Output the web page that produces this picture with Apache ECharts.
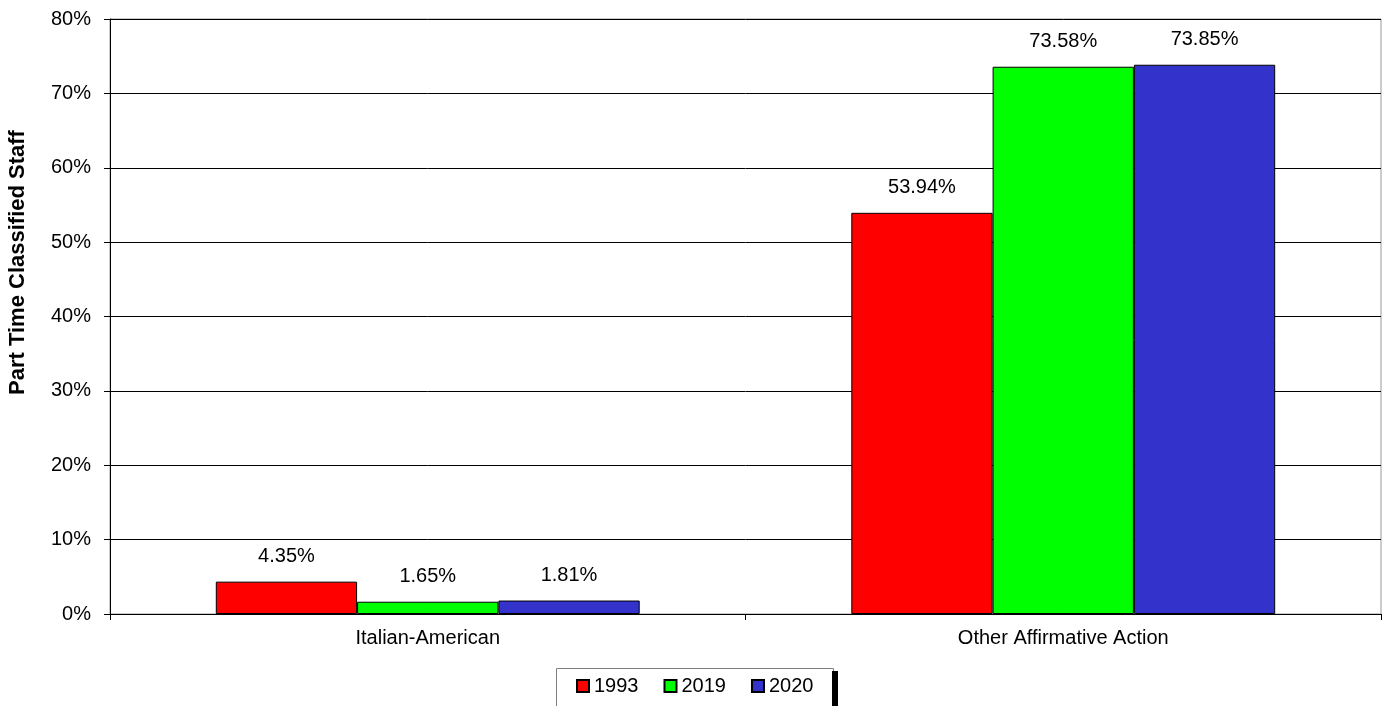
<!DOCTYPE html>
<html><head><meta charset="utf-8">
<script src="https://cdn.jsdelivr.net/npm/echarts@6/dist/echarts.min.js"></script>
<style>html,body{margin:0;padding:0;background:#fff}#c{width:1393px;height:706px}</style>
</head><body><div id="c"></div>
<script>
const categories = ["Italian-American", "Other Affirmative Action"];
const seriesNames = ["1993", "2019", "2020"];
const v1993 = [4.35, 53.94];
const v2019 = [1.65, 73.58];
const v2020 = [1.81, 73.85];
const colors = ["#FF0000", "#00FF00", "#3333CC"];
const yTitle = "Part Time Classified Staff";

const FF = 'Liberation Sans, Arial';
const chart = echarts.init(document.getElementById('c'));
const mk = (name, data, color) => ({
  name, type: 'bar', data, barGap: '0%', barCategoryGap: '33.3%',
  itemStyle: { color, borderColor: '#000', borderWidth: 1 },
  label: { show: true, position: 'top', distance: 15, formatter: p => p.value.toFixed(2) + '%',
    fontFamily: FF, fontSize: 20, color: '#000' }
});
chart.setOption({
  animation: false,
  grid: { left: 110, right: 12, top: 19, bottom: 92, show: true, borderColor: '#999', borderWidth: 1,
    containLabel: false, outerBoundsMode: 'none' },
  graphic: [
    { type: 'rect', left: 554, top: 666, shape: { width: 277, height: 50 },
      style: { fill: 'none', stroke: '#808080', lineWidth: 1 }, z: 1 },
    { type: 'rect', left: 832, top: 671, shape: { width: 6, height: 40 },
      style: { fill: '#000' }, z: 1 }
  ],
  legend: {
    data: seriesNames, top: 666, left: 554, itemWidth: 12, itemHeight: 12, itemGap: 25,
    icon: 'rect', padding: [10, 16, 14, 22],
    textStyle: { fontFamily: FF, fontSize: 20, color: '#000' }
  },
  xAxis: {
    type: 'category', data: categories,
    axisLine: { lineStyle: { color: '#000', width: 1 } },
    axisTick: { show: true, length: 6, lineStyle: { color: '#000' } },
    axisLabel: { fontFamily: FF, fontSize: 20, color: '#000', margin: 14 }
  },
  yAxis: {
    type: 'value', min: 0, max: 80, interval: 10,
    name: yTitle, nameLocation: 'middle', nameGap: 81, nameRotate: 90,
    nameTextStyle: { fontFamily: FF, fontSize: 22, fontWeight: 'bold', color: '#000', padding: [0, 0, 0, 108] },
    axisLine: { show: true, lineStyle: { color: '#000', width: 1 } },
    axisTick: { show: true, length: 6, lineStyle: { color: '#000' } },
    axisLabel: { formatter: '{value}%', fontFamily: FF, fontSize: 20, color: '#000', margin: 19 },
    splitLine: { show: true, lineStyle: { color: '#000', width: 1 } }
  },
  series: [mk(seriesNames[0], v1993, colors[0]), mk(seriesNames[1], v2019, colors[1]), mk(seriesNames[2], v2020, colors[2])]
});
</script></body></html>
